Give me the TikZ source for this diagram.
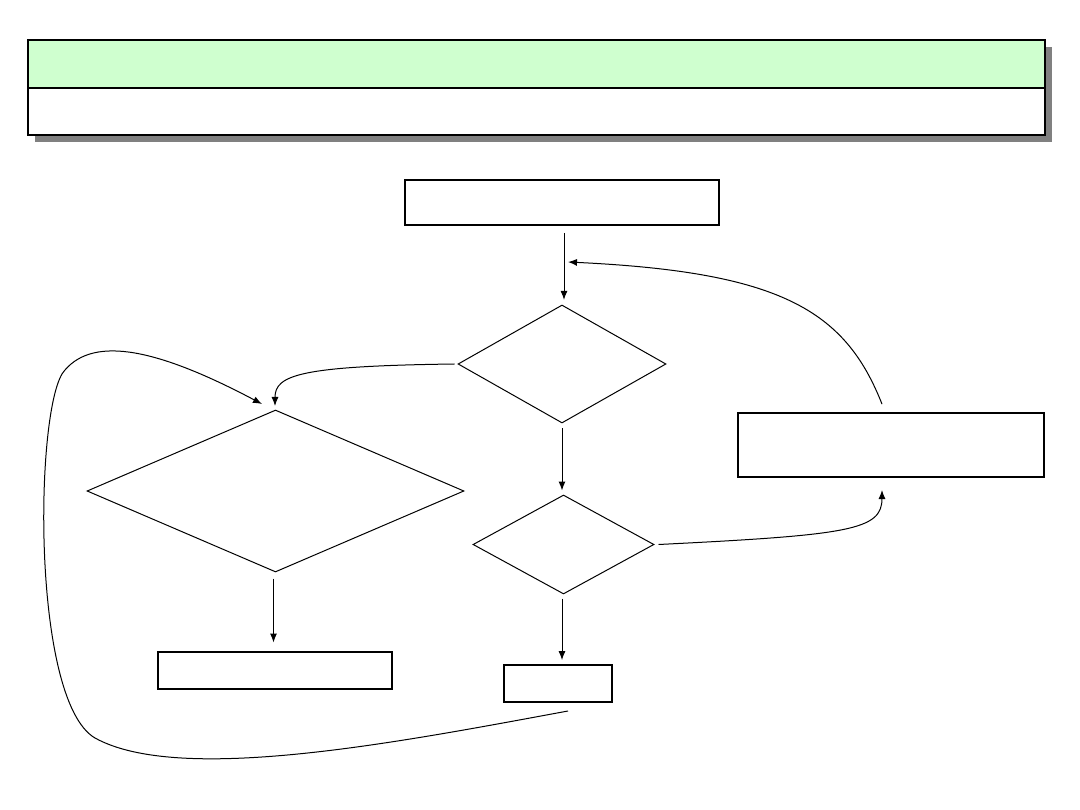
\documentclass[tikz,border=0pt]{standalone}
\usetikzlibrary{shapes.geometric,arrows.meta}
\definecolor{hdrgreen}{RGB}{207,255,207}
\definecolor{shadowgray}{RGB}{128,128,128}
\tikzset{
  rbox/.style={draw, line width=1.8pt, rectangle, inner sep=0pt},
  dbox/.style={draw, line width=1pt, diamond, inner sep=0pt},
  conn/.style={line width=1pt, -{Latex[length=9pt,width=7pt]}},
}
\begin{document}
\begin{tikzpicture}[x=1pt,y=-1pt]
\useasboundingbox (0,0) rectangle (1080,810);
% header
\fill[shadowgray] (35,47) rectangle (1052,142);
\node[rbox, fill=hdrgreen, minimum width=1017pt, minimum height=48pt, anchor=north west] (hdrtop) at (27,39) {};
\node[rbox, fill=white, minimum width=1017pt, minimum height=47pt, anchor=north west] (hdrbot) at (27,87) {};
% boxes
\node[rbox, minimum width=314pt, minimum height=45pt] (start) at (562,202.5) {};
\node[dbox, minimum width=208pt, minimum height=118pt] (d1) at (562,364) {};
\node[dbox, minimum width=377pt, minimum height=162pt] (d2) at (275.5,491) {};
\node[dbox, minimum width=181pt, minimum height=99pt] (d3) at (563.5,544.5) {};
\node[rbox, minimum width=306pt, minimum height=64pt] (rbox) at (891,445) {};
\node[rbox, minimum width=234pt, minimum height=37pt] (bl) at (275,670.5) {};
\node[rbox, minimum width=108pt, minimum height=37pt] (bm) at (558,683.5) {};
\coordinate (loopstart) at (568,711);
\coordinate (rtip) at (882,490);
\coordinate (ltip) at (568,262);
% connectors
\draw[conn, shorten <=7pt, shorten >=3pt] (start.south -| d1.north) ++(2,0) -- ++(0,77);
\draw[conn, shorten <=5pt, shorten >=4pt] (d1.south) -- (d3.north -| d1.south);
\draw[conn, shorten <=4pt, shorten >=4pt] (d3.south -| d1.south) -- (bm.north -| d1.south);
\draw[conn, shorten <=6pt] (d2.south) ++(-2,0) -- ++(0,70);
\draw[conn] (d1.west) ++(-3,0) .. controls (300,366) and (275,375) .. (275,406);
\draw[conn] (d3.east) ++(4,0) .. controls (850,535) and (882,530) .. (rtip);
\draw[conn] (rbox.north) ++(-9,-8) .. controls (845,310) and (780,272) .. (ltip);
\draw[conn] (loopstart) .. controls (400,742) and (180,785) .. (95,738)
  .. controls (30,700) and (35,400) .. (65,370)
  .. controls (95,335) and (160,350) .. (262,404);
\end{tikzpicture}
\end{document}
